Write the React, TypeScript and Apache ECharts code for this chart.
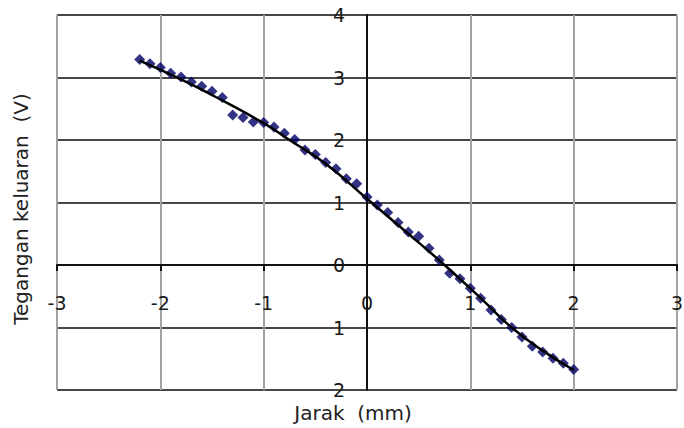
import React, { useEffect, useRef } from "react";
import * as echarts from "echarts";

const distanceMm = [
  -2.2, -2.1, -2.0, -1.9, -1.8, -1.7, -1.6, -1.5, -1.4, -1.3, -1.2, -1.1, -1.0, -0.9, -0.8,
  -0.7, -0.6, -0.5, -0.4, -0.3, -0.2, -0.1, 0.0, 0.1, 0.2, 0.3, 0.4, 0.5, 0.6, 0.7, 0.8, 0.9,
  1.0, 1.1, 1.2, 1.3, 1.4, 1.5, 1.6, 1.7, 1.8, 1.9, 2.0,
];
const voltageV = [
  3.29, 3.22, 3.16, 3.07, 3.01, 2.93, 2.86, 2.78, 2.68, 2.4, 2.36, 2.29, 2.28, 2.21, 2.11,
  2.01, 1.84, 1.77, 1.64, 1.54, 1.38, 1.3, 1.09, 0.96, 0.84, 0.68, 0.53, 0.46, 0.27, 0.08,
  -0.13, -0.22, -0.37, -0.53, -0.72, -0.87, -1.0, -1.15, -1.3, -1.39, -1.49, -1.57, -1.67,
];
const trendDistance = [-2.2, -1.8, -1.5, -1.0, -0.75, -0.4, 0.0, 0.4, 0.75, 1.1, 1.4, 1.7, 2.0];
const trendVoltage = [3.27, 2.97, 2.72, 2.27, 2.0, 1.62, 1.06, 0.5, 0.0, -0.53, -1.0, -1.37, -1.68];

const xTitle = "Jarak  (mm)";
const yTitle = "Tegangan keluaran  (V)";

export default function App() {
  const ref = useRef<HTMLDivElement>(null);
  useEffect(() => {
    if (!ref.current) return;
    const chart = echarts.init(ref.current, undefined, { renderer: "svg" });
    const font = "DejaVu Sans";
    chart.setOption({
      animation: false,
      grid: {
        left: 57,
        right: 7,
        top: 15,
        bottom: 38,
        containLabel: false,
        outerBoundsMode: "none",
      },
      xAxis: {
        type: "value",
        min: -3,
        max: 3,
        interval: 1,
        position: "bottom",
        offset: -125,
        axisLine: { onZero: false, lineStyle: { color: "#111", width: 2 } },
        axisTick: { show: true, length: 6, lineStyle: { color: "#111", width: 2 } },
        axisLabel: { margin: 28, fontSize: 19, color: "#1a1a1a", fontFamily: font },
        splitLine: { show: true, lineStyle: { color: "#a3a3a3", width: 2 } },
      },
      yAxis: {
        type: "value",
        min: -2,
        max: 4,
        interval: 1,
        position: "left",
        offset: -310,
        axisLine: { onZero: false, lineStyle: { color: "#111", width: 2 } },
        axisTick: { show: false },
        axisLabel: {
          margin: 22,
          fontSize: 19,
          color: "#1a1a1a",
          fontFamily: font,
          formatter: (v: number) => String(Math.abs(v)),
        },
        splitLine: { show: true, lineStyle: { color: "#474747", width: 2 } },
      },
      graphic: [
        {
          type: "text",
          x: 21,
          y: 209,
          rotation: Math.PI / 2,
          style: {
            text: yTitle,
            fontSize: 20,
            fontFamily: font,
            fill: "#222",
            align: "center",
            verticalAlign: "middle",
          },
        },
        {
          type: "text",
          x: 353,
          y: 413,
          style: {
            text: xTitle,
            fontSize: 20,
            fontFamily: font,
            fill: "#222",
            align: "center",
            verticalAlign: "middle",
          },
        },
      ],
      series: [
        {
          type: "scatter",
          data: distanceMm.map((x, i) => [x, voltageV[i]]),
          symbol: "diamond",
          symbolSize: 11,
          itemStyle: { color: "#000066" },
          silent: true,
          z: 3,
        },
        {
          type: "line",
          data: trendDistance.map((x, i) => [x, trendVoltage[i]]),
          smooth: true,
          showSymbol: false,
          lineStyle: { color: "#000", width: 2.5 },
          silent: true,
          z: 4,
        },
      ],
    });
    return () => chart.dispose();
  }, []);
  return (
    <div
      ref={ref}
      style={{ position: "fixed", left: 0, top: 0, width: 684, height: 428, background: "#fff" }}
    />
  );
}
